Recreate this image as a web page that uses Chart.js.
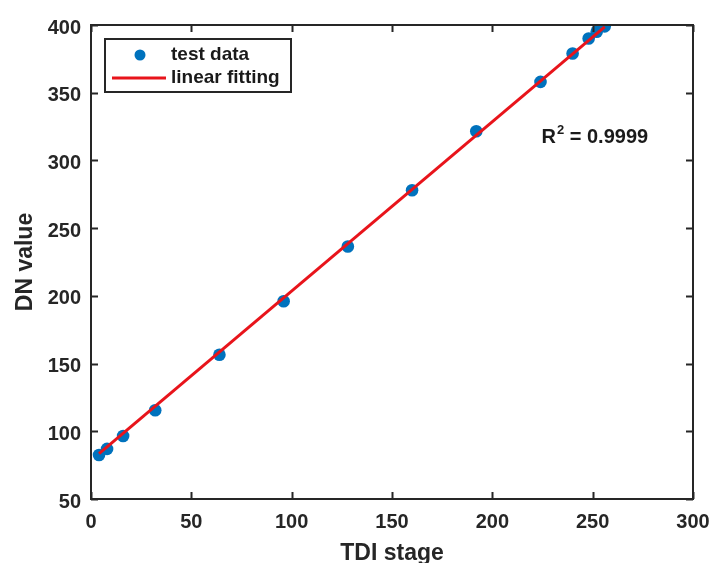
<!DOCTYPE html>
<html>
<head>
<meta charset="utf-8">
<script src="https://cdn.jsdelivr.net/npm/chart.js@4.4.0/dist/chart.umd.min.js"></script>
<style>
html,body{margin:0;padding:0;background:#fff;}
#wrap{width:711px;height:563px;}
</style>
</head>
<body>
<div id="wrap"><canvas id="c" width="711" height="563"></canvas></div>
<script>
const tdiStages = [4, 8, 16, 32, 64, 96, 128, 160, 192, 224, 240, 248, 252, 256];
const dnValues  = [82.5, 87, 96.5, 115.5, 156.5, 196, 236.5, 278, 321.5, 358, 379, 390, 395, 399];
const fitX = [4, 256];
const fitY = [83.5, 398.6];
const xTicks = [0, 50, 100, 150, 200, 250, 300];
const yTicks = [50, 100, 150, 200, 250, 300, 350, 400];
const r2Label = "0.9999";

const AX = '#262626';
const FONT = "'Liberation Sans', Arial, sans-serif";

const boxPlugin = {
  id: 'boxPlugin',
  afterDraw(chart) {
    const ctx = chart.ctx;
    const a = chart.chartArea;
    const xs = chart.scales.x, ys = chart.scales.y;
    ctx.save();
    ctx.strokeStyle = AX;
    ctx.lineWidth = 2;
    ctx.strokeRect(a.left, a.top, a.right - a.left, a.bottom - a.top);
    const tl = 7;
    ctx.beginPath();
    xTicks.forEach(v => {
      const p = Math.round(xs.getPixelForValue(v)) + 0.5;
      ctx.moveTo(p, a.bottom); ctx.lineTo(p, a.bottom - tl);
      ctx.moveTo(p, a.top); ctx.lineTo(p, a.top + tl);
    });
    yTicks.forEach(v => {
      const p = Math.round(ys.getPixelForValue(v)) + 0.5;
      ctx.moveTo(a.left, p); ctx.lineTo(a.left + tl, p);
      ctx.moveTo(a.right, p); ctx.lineTo(a.right - tl, p);
    });
    ctx.stroke();

    // legend
    ctx.fillStyle = '#fff';
    ctx.fillRect(105, 39, 186, 53);
    ctx.strokeStyle = AX;
    ctx.lineWidth = 2;
    ctx.strokeRect(105, 39, 186, 53);
    ctx.fillStyle = '#0072BD';
    ctx.beginPath(); ctx.arc(140, 55, 5.5, 0, Math.PI * 2); ctx.fill();
    ctx.strokeStyle = '#e8141b';
    ctx.lineWidth = 3;
    ctx.beginPath(); ctx.moveTo(112, 78); ctx.lineTo(166, 78); ctx.stroke();
    ctx.fillStyle = '#1a1a1a';
    ctx.font = "bold 19px " + FONT;
    ctx.textBaseline = 'middle';
    ctx.textAlign = 'left';
    ctx.fillText('test data', 171, 55);
    ctx.fillText('linear fitting', 171, 78);

    // R^2 annotation
    const rx = xs.getPixelForValue(224.5);
    const ry = ys.getPixelForValue(313);
    ctx.textBaseline = 'alphabetic';
    ctx.font = "bold 20px " + FONT;
    ctx.fillText('R', rx, ry);
    const wR = ctx.measureText('R').width;
    ctx.font = "bold 13px " + FONT;
    ctx.fillText('2', rx + wR + 1, ry - 9);
    const w2 = ctx.measureText('2').width;
    ctx.font = "bold 20px " + FONT;
    ctx.fillText(' = ' + r2Label, rx + wR + w2 + 1, ry);
    ctx.restore();
  }
};

new Chart(document.getElementById('c'), {
  type: 'scatter',
  data: {
    datasets: [
      {
        label: 'linear fitting',
        data: fitX.map((x, i) => ({x: x, y: fitY[i]})),
        showLine: true,
        borderColor: '#e8141b',
        borderWidth: 3,
        pointRadius: 0,
        order: 0
      },
      {
        label: 'test data',
        data: tdiStages.map((x, i) => ({x: x, y: dnValues[i]})),
        backgroundColor: '#0072BD',
        borderColor: '#0072BD',
        pointRadius: 6.3,
        pointBorderWidth: 0,
        order: 1
      }
    ]
  },
  options: {
    responsive: false,
    animation: false,
    layout: {padding: {left: 0, right: 18, top: 25, bottom: 0}},
    plugins: {legend: {display: false}, tooltip: {enabled: false}},
    scales: {
      x: {
        type: 'linear', min: 0, max: 300,
        afterBuildTicks: s => { s.ticks = xTicks.map(v => ({value: v})); },
        afterFit: s => { s.height = 64; s.paddingLeft = 0; s.paddingRight = 0; },
        grid: {display: false, drawTicks: false, tickLength: 0},
        border: {display: false},
        ticks: {color: AX, padding: 11, maxRotation: 0, font: {family: FONT, size: 20, weight: 'bold'}},
        title: {display: true, text: 'TDI stage', color: AX, padding: {top: 0, bottom: 0},
                font: {family: FONT, size: 23, weight: 'bold', lineHeight: 0.8}}
      },
      y: {
        type: 'linear', min: 50, max: 400,
        afterBuildTicks: s => { s.ticks = yTicks.map(v => ({value: v})); },
        afterFit: s => { s.width = 91; s.paddingTop = 0; s.paddingBottom = 0; },
        grid: {display: false, drawTicks: false, tickLength: 0},
        border: {display: false},
        ticks: {color: AX, padding: 10, labelOffset: 3, font: {family: FONT, size: 20, weight: 'bold'}},
        title: {display: true, text: 'DN value', color: AX, padding: {top: 14, bottom: 0},
                font: {family: FONT, size: 23, weight: 'bold', lineHeight: 1}}
      }
    }
  },
  plugins: [boxPlugin]
});
</script>
</body>
</html>
